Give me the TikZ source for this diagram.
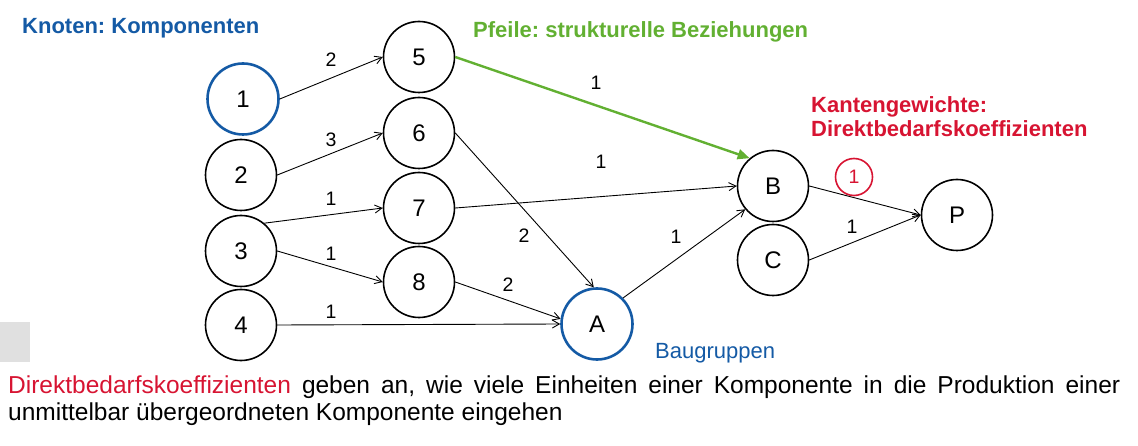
\documentclass[tikz,border=0pt]{standalone}
\usepackage{fontspec}
\setmainfont{Liberation Sans}
\usetikzlibrary{arrows.meta}
\definecolor{kblue}{RGB}{20,90,165}
\definecolor{kgreen}{RGB}{98,176,50}
\definecolor{kred}{RGB}{215,20,50}
\definecolor{kgrey}{RGB}{224,224,224}
\frenchspacing
\hyphenpenalty=10000
\exhyphenpenalty=10000
\begin{document}
\begin{tikzpicture}[x=1pt,y=-1pt,
 comp/.style={circle,draw=black,line width=1.6pt,minimum size=71pt,inner sep=0pt,font=\fontsize{24}{24}\selectfont},
 grp/.style={comp,draw=kblue,line width=2.6pt},
 rel/.style={-{Straight Barb[length=7pt,width=8pt]},line width=0.9pt},
 strong/.style={-{Triangle[length=12pt,width=10pt]},draw=kgreen,line width=2.4pt},
 wt/.style={font=\fontsize{19.5}{19.5}\selectfont,inner sep=0pt},
 head/.style={font=\fontsize{22}{24}\selectfont\bfseries,inner sep=0pt,anchor=west},
 ]
\useasboundingbox (0,0) rectangle (1138,446);
\node[fill=kgrey,minimum width=30pt,minimum height=40pt,inner sep=0pt,anchor=north west] (grey) at (0,322) {};

\node[grp]  (n1) at (243,99) {1};
\node[comp] (n2) at (241,175) {2};
\node[comp] (n3) at (241,251) {3};
\node[comp] (n4) at (241,325) {4};
\node[comp] (n5) at (419,57) {5};
\node[comp] (n6) at (419,133) {6};
\node[comp] (n7) at (419,208) {7};
\node[comp] (n8) at (419,282) {8};
\node[grp]  (A) at (597,324) {A};
\node[comp] (B) at (773,186) {B};
\node[comp] (C) at (773,260) {C};
\node[comp] (P) at (957,215) {P};

\draw[rel] (n1.east) -- (n5.west);
\draw[rel] (n2.east) -- (n6.west);
\draw[rel] (n3.50) -- (n7.west);
\draw[rel] (n3.east) -- (n8.west);
\draw[rel] (n4.east) -- (A.west);
\draw[rel] (n6.east) -- (A.95);
\draw[rel] (n8.east) -- (A.172);
\draw[rel] (A.45) -- (B.220);
\draw[rel] (n7.east) -- (B.west);
\draw[strong] (n5.east) -- (B.130);
\draw[rel] (B.east) -- (P.west);
\draw[rel] (C.east) -- (P.west);

\node[wt] (w15) at (331,60) {2};
\node[wt] (w26) at (331,140) {3};
\node[wt] (w37) at (331,199) {1};
\node[wt] (w38) at (331,254) {1};
\node[wt] (w4A) at (331,312) {1};
\node[wt] (w6A) at (524,236) {2};
\node[wt] (w8A) at (508,285) {2};
\node[wt] (wAB) at (676,237) {1};
\node[wt] (w7B) at (601,162) {1};
\node[wt] (w5B) at (596,83) {1};
\node[wt,text=kred,circle,draw=kred,line width=1.6pt,minimum size=37pt] (wBP) at (854,177) {1};
\node[wt] (wCP) at (852,227) {1};

\node[head,text=kblue] (t1) at (22,28) {Knoten: Komponenten};
\node[head,text=kgreen] (t2) at (473,32) {Pfeile: strukturelle Beziehungen};
\node[head,text=kred,align=left] (t3) at (811,117) {Kantengewichte:\\Direktbedarfskoeffizienten};
\node[font=\fontsize{22}{22}\selectfont,text=kblue,inner sep=0pt,anchor=west] (t4) at (655,353) {Baugruppen};

\node[font=\fontsize{24.5}{27}\selectfont,inner sep=0pt,anchor=north west,text width=1112pt,align=justify] (txt) at (8,376)
 {\textcolor{kred}{Direktbedarfskoeffizienten} geben an, wie viele Einheiten einer Komponente in die Produktion einer unmittelbar übergeordneten Komponente eingehen};
\end{tikzpicture}
\end{document}
